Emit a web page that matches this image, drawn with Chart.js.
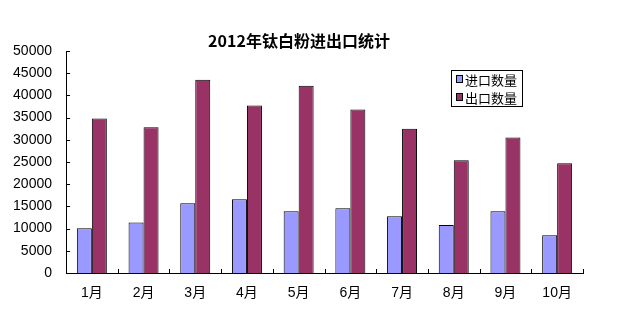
<!DOCTYPE html>
<html>
<head>
<meta charset="utf-8">
<script src="https://cdn.jsdelivr.net/npm/chart.js@4/dist/chart.umd.min.js"></script>
<style>
    html, body { margin: 0; padding: 0; background: #fff; }
    #wrap { width: 619px; height: 309px; position: relative; }
</style>
</head>
<body>
<div id="wrap"><canvas id="c"></canvas></div>
<script>
// 2012 titanium dioxide import/export chart

const titleText = '2012年钛白粉进出口统计';
const months = ['1月', '2月', '3月', '4月', '5月', '6月', '7月', '8月', '9月', '10月'];
const importLabel = '进口数量';
const exportLabel = '出口数量';
const importValues = [10100, 11400, 15700, 16600, 13900, 14600, 12800, 10800, 13900, 8500];
const exportValues = [34800, 32800, 43500, 37700, 42200, 36800, 32500, 25400, 30500, 24700];
const yTicks = [0, 5000, 10000, 15000, 20000, 25000, 30000, 35000, 40000, 45000, 50000];

const labelFont = '"Liberation Sans", "Noto Sans CJK SC", sans-serif';

// Excel style inward ticks, title and boxed legend
const decorPlugin = {
    id: 'decor',
    afterDraw: (chart) => {
        const ctx = chart.ctx;
        const area = chart.chartArea;
        const x = chart.scales.x;
        const y = chart.scales.y;

        ctx.save();
        ctx.strokeStyle = '#000';
        ctx.lineWidth = 1;
        ctx.beginPath();
        // y ticks pointing into the plot
        yTicks.forEach(v => {
            const py = Math.round(y.getPixelForValue(v)) + 0.5;
            ctx.moveTo(area.left, py);
            ctx.lineTo(area.left + 4, py);
        });
        // x ticks on category boundaries
        for (let i = 0; i <= months.length; i++) {
            const px = Math.round(x.getPixelForValue(i - 0.5)) + 0.5;
            ctx.moveTo(px, area.bottom);
            ctx.lineTo(px, area.bottom - 4);
        }
        ctx.stroke();

        // title
        ctx.fillStyle = '#000';
        ctx.font = 'bold 16px "Noto Sans CJK SC", sans-serif';
        ctx.textAlign = 'center';
        ctx.textBaseline = 'middle';
        ctx.fillText(titleText, area.left + 233, area.top - 10);

        // legend box
        const lx = area.left + 385, ly = area.top + 19, lw = 71, lh = 36;
        ctx.strokeRect(lx + 0.5, ly + 0.5, lw, lh);
        ctx.font = '13px "Noto Sans CJK SC", sans-serif';
        ctx.textAlign = 'left';
        chart.data.datasets.forEach((ds, i) => {
            const cy = ly + 9 + i * 18;
            ctx.fillStyle = ds.backgroundColor;
            ctx.fillRect(lx + 5, cy - 3, 6, 6);
            ctx.strokeRect(lx + 5.5, cy - 3.5, 6, 7);
            ctx.fillStyle = '#000';
            ctx.fillText(ds.label, lx + 14, cy + 1);
        });
        ctx.restore();
    }
};

new Chart(document.getElementById('c').getContext('2d'), {
    type: 'bar',
    data: {
        labels: months,
        datasets: [
            {
                label: importLabel,
                data: importValues,
                backgroundColor: '#9999ff',
                borderColor: '#000',
                borderWidth: 1,
                borderSkipped: 'bottom'
            },
            {
                label: exportLabel,
                data: exportValues,
                backgroundColor: '#993366',
                borderColor: '#000',
                borderWidth: 1,
                borderSkipped: 'bottom'
            }
        ]
    },
    options: {
        responsive: true,
        maintainAspectRatio: false,
        animation: false,
        categoryPercentage: 0.58,
        barPercentage: 1.0,
        layout: { padding: { left: 0, right: 36, top: 51, bottom: 0 } },
        plugins: {
            legend: { display: false },
            title: { display: false },
            tooltip: { enabled: false }
        },
        scales: {
            x: {
                grid: { display: false, drawTicks: false },
                border: { display: true, color: '#000', width: 1 },
                ticks: { color: '#000', padding: 12, font: { family: labelFont, size: 14 } },
                afterFit: (scale) => { scale.height = 36; }
            },
            y: {
                min: 0,
                max: 50000,
                afterBuildTicks: (scale) => { scale.ticks = yTicks.map(v => ({ value: v })); },
                grid: { display: false, drawTicks: false },
                border: { display: true, color: '#000', width: 1 },
                ticks: {
                    color: '#000',
                    padding: 14,
                    font: { family: labelFont, size: 14 },
                    callback: (value) => String(value)
                },
                afterFit: (scale) => { scale.width = 66; }
            }
        }
    },
    plugins: [decorPlugin]
});
</script>
</body>
</html>
